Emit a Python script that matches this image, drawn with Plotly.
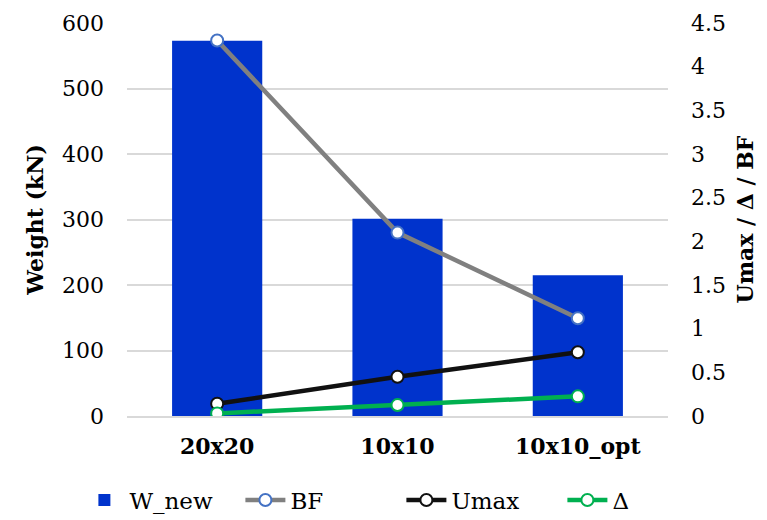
import plotly.graph_objects as go

categories = ["20x20", "10x10", "10x10_opt"]
w_new = [573, 301, 215]
bf = [4.30, 2.10, 1.12]
umax = [0.14, 0.45, 0.73]
delta = [0.03, 0.125, 0.225]

left_ticks = [0, 100, 200, 300, 400, 500, 600]
right_ticks = [0, 0.5, 1, 1.5, 2, 2.5, 3, 3.5, 4, 4.5]
right_ticklabels = ["0", "0.5", "1", "1.5", "2", "2.5", "3", "3.5", "4", "4.5"]

FD = "DejaVu Serif"
FS = 22

fig = go.Figure()
fig.add_trace(go.Bar(x=categories, y=w_new, name="W_new", marker=dict(color="#0033CC", line=dict(width=0)),
                     yaxis="y"))


def line_trace(y, name, lc, mc):
    return go.Scatter(x=categories, y=y, name=name, yaxis="y2", mode="lines+markers",
                      line=dict(color=lc, width=4.5),
                      marker=dict(size=12, color="white", line=dict(color=mc, width=2)))


fig.add_trace(line_trace(bf, "BF", "#808080", "#4472C4"))
fig.add_trace(line_trace(umax, "Umax", "#111111", "#111111"))
fig.add_trace(line_trace(delta, "Δ", "#00B050", "#00B050"))

fig.update_layout(
    width=759, height=512,
    margin=dict(l=119, r=99, t=15, b=104, autoexpand=False),
    paper_bgcolor="white", plot_bgcolor="white",
    font=dict(family=FD, size=FS, color="black"),
    bargap=0.5,
    showlegend=True,
    legend=dict(orientation="h", x=-0.088, xanchor="left", y=-0.214, yanchor="middle",
                font=dict(family=FD, size=23), itemwidth=40, traceorder="normal",
                entrywidth=106),
    xaxis=dict(showgrid=False, showline=True, linecolor="#d9d9d9", linewidth=1.5, automargin=False,
               tickfont=dict(size=FS, family=FD, color="black", weight="bold"),
               ticks="", ticklabelstandoff=10),
    yaxis=dict(range=[0, 600], tickvals=left_ticks, showgrid=True, gridcolor="#d9d9d9", gridwidth=1.5,
               zeroline=False, showline=False, ticks="", ticklabelstandoff=22, automargin=False,
               tickfont=dict(family=FD, size=FS, color="black"),
               title=dict(text="<b>Weight (kN)</b>", font=dict(family=FD, size=FS), standoff=12)),
    yaxis2=dict(range=[0, 4.50001], tickvals=right_ticks, ticktext=right_ticklabels, overlaying="y",
                side="right", showgrid=False, zeroline=False, showline=False, ticks="",
                ticklabelstandoff=22, automargin=False,
                tickfont=dict(family=FD, size=FS, color="black"),
                title=dict(text="<b>Umax / Δ / BF</b>", font=dict(family=FD, size=FS), standoff=12)),
)

fig.write_html("out.html")
